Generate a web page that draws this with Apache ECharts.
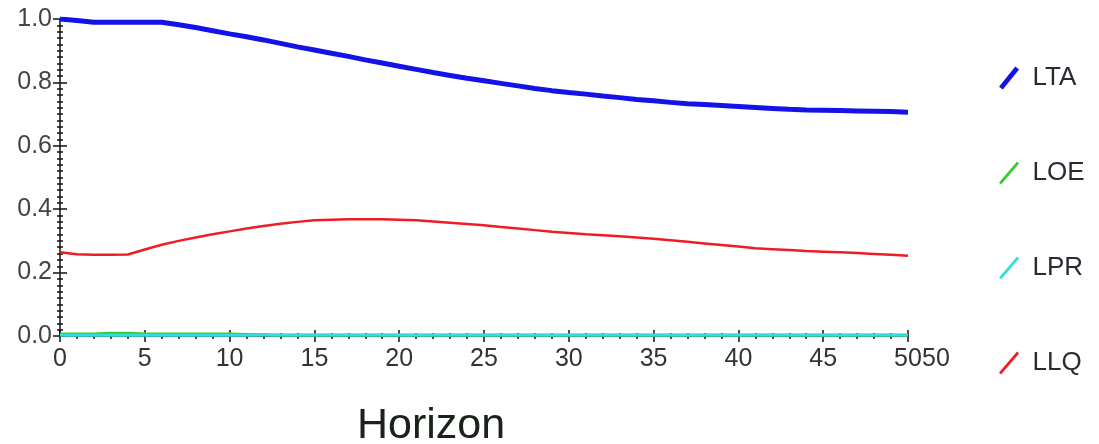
<!DOCTYPE html>
<html>
<head>
<meta charset="utf-8">
<script src="https://cdn.jsdelivr.net/npm/echarts@6/dist/echarts.min.js"></script>
<style>html,body{margin:0;padding:0;background:#fff;}#c{width:1099px;height:444px;}</style>
</head>
<body>
<div id="c"></div>
<script>
var horizons = [];
for (var h = 0; h <= 50; h++) horizons.push(h);
var seriesNames = ['LTA', 'LOE', 'LPR', 'LLQ'];
var LTA = [1.0,0.995,0.99,0.99,0.99,0.99,0.99,0.982,0.973,0.963,0.953,0.944,0.934,0.923,0.912,0.902,0.892,0.882,0.871,0.861,0.851,0.841,0.831,0.822,0.813,0.805,0.797,0.789,0.781,0.774,0.768,0.763,0.757,0.752,0.746,0.742,0.737,0.733,0.730,0.727,0.724,0.721,0.718,0.715,0.713,0.712,0.711,0.710,0.709,0.708,0.706];
var LOE = [0.006,0.006,0.006,0.009,0.009,0.006,0.006,0.006,0.006,0.006,0.006,0.005,0.004,0.002,0.002,0.002,0.002,0.002,0.002,0.002,0.002,0.002,0.002,0.002,0.002,0.002,0.002,0.002,0.002,0.002,0.002,0.002,0.002,0.002,0.002,0.002,0.002,0.002,0.002,0.002,0.002,0.002,0.002,0.002,0.002,0.002,0.002,0.002,0.002,0.002,0.002];
var LPR = [0.002,0.002,0.002,0.002,0.002,0.002,0.002,0.002,0.002,0.002,0.002,0.002,0.003,0.003,0.003,0.003,0.003,0.003,0.003,0.003,0.003,0.003,0.003,0.003,0.003,0.003,0.003,0.003,0.003,0.003,0.003,0.003,0.003,0.003,0.003,0.003,0.003,0.003,0.003,0.003,0.003,0.003,0.003,0.003,0.003,0.003,0.003,0.003,0.003,0.003,0.003];
var LLQ = [0.264,0.258,0.256,0.256,0.257,0.273,0.288,0.300,0.311,0.321,0.330,0.339,0.347,0.354,0.360,0.365,0.367,0.368,0.368,0.368,0.367,0.365,0.361,0.357,0.353,0.349,0.344,0.339,0.334,0.329,0.325,0.321,0.318,0.315,0.311,0.307,0.302,0.297,0.292,0.287,0.282,0.277,0.274,0.271,0.268,0.266,0.264,0.262,0.259,0.256,0.253];
var yTickLabels = ['0.0','0.2','0.4','0.6','0.8','1.0'];
var xTickLabels = ['0','5','10','15','20','25','30','35','40','45','50'];
var xExtraLabel = '50';
var xTitle = 'Horizon';

var colors = ['#1313e8', '#33cc33', '#33dddd', '#ee1c24'];
var widths = [5, 3, 3, 2.5];
var allData = [LTA, LOE, LPR, LLQ];

function pairs(arr) { return horizons.map(function (x, i) { return [x, arr[i]]; }); }

var font = 'Liberation Sans, Arial, sans-serif';
var thick = 'path://M0,21 L17,0 L21,3 L4,24 Z';
var thin = 'path://M0,21 L18,0 L20,2 L2,23 Z';

var chart = echarts.init(document.getElementById('c'), null, {renderer: 'canvas'});
var option = {
  animation: false,
  backgroundColor: '#ffffff',
  grid: {left: 60, right: 191, top: 19, bottom: 108, containLabel: false},
  title: {
    text: xTitle, left: 426, top: 400, textAlign: 'center',
    textStyle: {fontFamily: font, fontSize: 43, fontWeight: 'normal', color: '#1a221a'}
  },
  legend: {
    orient: 'vertical', left: 994, top: 60, itemGap: 69,
    itemWidth: 21, itemHeight: 23,
    textStyle: {fontFamily: font, fontSize: 26, color: '#2a2a33', padding: [0, 0, 0, 8]},
    itemStyle: {borderWidth: 0},
    data: seriesNames.map(function (n, i) { return {name: n, icon: i === 0 ? thick : thin}; })
  },
  xAxis: [{
    type: 'value', min: 0, max: 50, interval: 5,
    axisLine: {show: true, lineStyle: {color: '#111', width: 1.5}},
    axisTick: {show: true, length: 6, lineStyle: {color: '#111', width: 1.5}},
    minorTick: {show: true, splitNumber: 5, length: 3, lineStyle: {color: '#111', width: 1.5}},
    splitLine: {show: false},
    axisLabel: {
      fontFamily: font, fontSize: 25, color: '#333', margin: 11,
      formatter: function (v) { return xTickLabels[Math.round(v / 5)]; }
    },
    name: xExtraLabel, nameLocation: 'end', nameGap: 14, nameMoveOverlap: false,
    nameTextStyle: {fontFamily: font, fontSize: 25, color: '#333', verticalAlign: 'top', padding: [11, 0, 0, 0]}
  }, {
    type: 'value', min: 0, max: 50, interval: 5, position: 'bottom',
    axisLine: {show: false},
    axisTick: {show: true, inside: true, length: 6, lineStyle: {color: '#111', width: 1.5}},
    minorTick: {show: true, splitNumber: 5, length: 3, lineStyle: {color: '#111', width: 1.5}},
    splitLine: {show: false},
    axisLabel: {show: false}
  }],
  yAxis: [{
    type: 'value', min: 0, max: 1, interval: 0.2,
    axisLine: {show: true, lineStyle: {color: '#111', width: 1.5}},
    axisTick: {show: true, length: 7, lineStyle: {color: '#111', width: 1.5}},
    minorTick: {show: true, splitNumber: 10, length: 3, lineStyle: {color: '#111', width: 1.5}},
    splitLine: {show: false},
    axisLabel: {
      fontFamily: font, fontSize: 25, color: '#444', margin: 8,
      formatter: function (v) { return yTickLabels[Math.round(v / 0.2)]; }
    }
  }, {
    type: 'value', min: 0, max: 1, interval: 0.2, position: 'left',
    axisLine: {show: false},
    axisTick: {show: true, inside: true, length: 7, lineStyle: {color: '#111', width: 1.5}},
    minorTick: {show: true, splitNumber: 10, length: 3, lineStyle: {color: '#111', width: 1.5}},
    splitLine: {show: false},
    axisLabel: {show: false}
  }],
  series: seriesNames.map(function (n, i) {
    return {
      name: n, type: 'line', xAxisIndex: 0, yAxisIndex: 0,
      data: pairs(allData[i]), showSymbol: false, symbol: 'none',
      color: colors[i],
      lineStyle: {color: colors[i], width: widths[i]},
      itemStyle: {color: colors[i]},
      z: 3
    };
  })
};
chart.setOption(option);
</script>
</body>
</html>
